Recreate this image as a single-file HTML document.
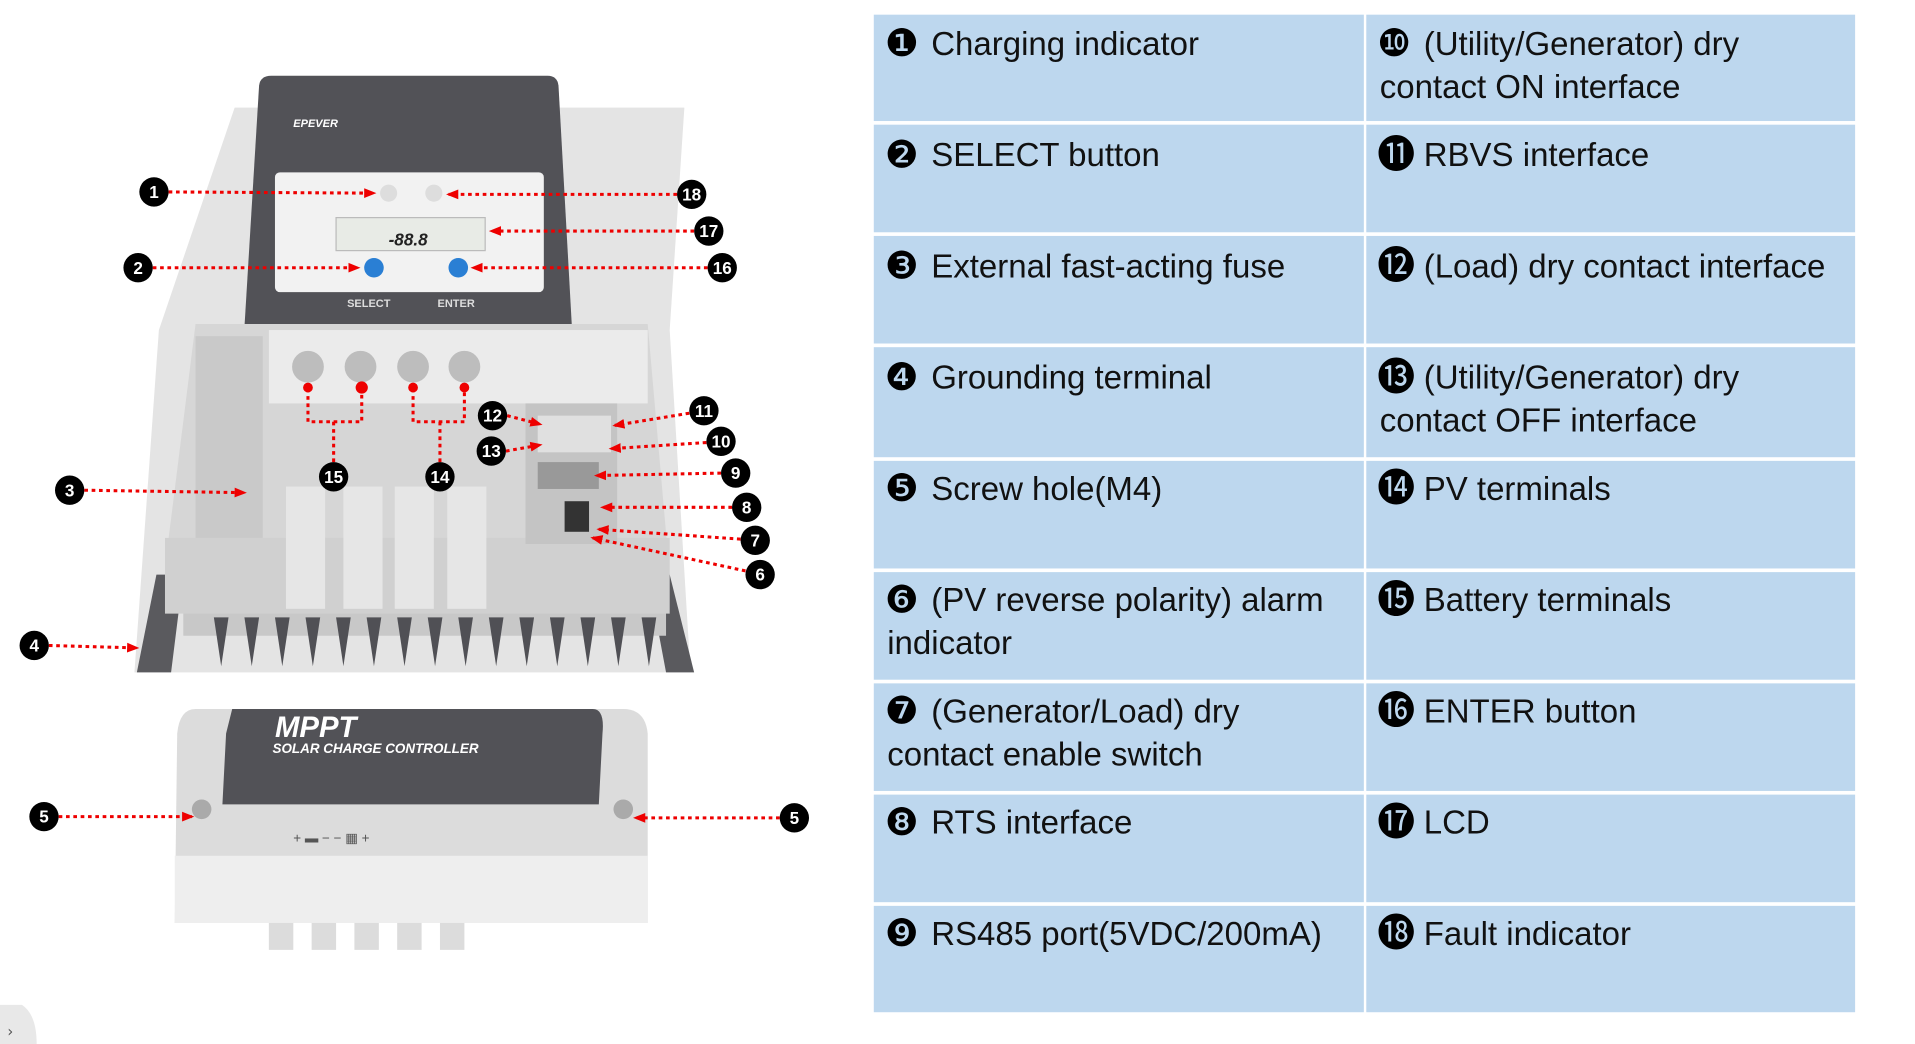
<!DOCTYPE html>
<html><head><meta charset="utf-8"><style>
html,body{margin:0;padding:0;background:#fff;width:1915px;height:1044px;overflow:hidden}
svg{display:block}
.t{font-family:"Liberation Sans Narrow","Liberation Sans",sans-serif;font-size:27px;fill:#111}
.n{font-family:"DejaVu Sans",sans-serif;font-size:31px;fill:#000}
.c{font-family:"Liberation Sans",sans-serif;font-size:14px;font-weight:bold;fill:#fff;text-anchor:middle}
</style></head><body>
<svg width="1915" height="1044" viewBox="0 0 1567 854" preserveAspectRatio="none">
<defs>
<marker id="a" markerUnits="userSpaceOnUse" markerWidth="10" markerHeight="10" refX="8" refY="5" orient="auto"><path d="M0,1 L10,5 L0,9 z" fill="#e00"/></marker>
</defs>
<g fill="#bdd7ee">
<rect x="715" y="12" width="401" height="87"/><rect x="1118" y="12" width="400" height="87"/>
<rect x="715" y="102" width="401" height="88"/><rect x="1118" y="102" width="400" height="88"/>
<rect x="715" y="193" width="401" height="88"/><rect x="1118" y="193" width="400" height="88"/>
<rect x="715" y="284" width="401" height="90"/><rect x="1118" y="284" width="400" height="90"/>
<rect x="715" y="377" width="401" height="88"/><rect x="1118" y="377" width="400" height="88"/>
<rect x="715" y="468" width="401" height="88"/><rect x="1118" y="468" width="400" height="88"/>
<rect x="715" y="559" width="401" height="88"/><rect x="1118" y="559" width="400" height="88"/>
<rect x="715" y="650" width="401" height="88"/><rect x="1118" y="650" width="400" height="88"/>
<rect x="715" y="741" width="401" height="87"/><rect x="1118" y="741" width="400" height="87"/>
</g>
<g>
<text class="n" x="724" y="46">❶</text><text class="t" x="762" y="45">Charging indicator</text>
<text class="n" x="1127" y="46">❿</text><text class="t" x="1165" y="45">(Utility/Generator) dry</text><text class="t" x="1129" y="80">contact ON interface</text>
<text class="n" x="724" y="137">❷</text><text class="t" x="762" y="136">SELECT button</text>
<text class="n" x="1127" y="137">⓫</text><text class="t" x="1165" y="136">RBVS interface</text>
<text class="n" x="724" y="228">❸</text><text class="t" x="762" y="227">External fast-acting fuse</text>
<text class="n" x="1127" y="228">⓬</text><text class="t" x="1165" y="227">(Load) dry contact interface</text>
<text class="n" x="724" y="319">❹</text><text class="t" x="762" y="318">Grounding terminal</text>
<text class="n" x="1127" y="319">⓭</text><text class="t" x="1165" y="318">(Utility/Generator) dry</text><text class="t" x="1129" y="353">contact OFF interface</text>
<text class="n" x="724" y="410">❺</text><text class="t" x="762" y="409">Screw hole(M4)</text>
<text class="n" x="1127" y="410">⓮</text><text class="t" x="1165" y="409">PV terminals</text>
<text class="n" x="724" y="501">❻</text><text class="t" x="762" y="500">(PV reverse polarity) alarm</text><text class="t" x="726" y="535">indicator</text>
<text class="n" x="1127" y="501">⓯</text><text class="t" x="1165" y="500">Battery terminals</text>
<text class="n" x="724" y="592">❼</text><text class="t" x="762" y="591">(Generator/Load) dry</text><text class="t" x="726" y="626">contact enable switch</text>
<text class="n" x="1127" y="592">⓰</text><text class="t" x="1165" y="591">ENTER button</text>
<text class="n" x="724" y="683">❽</text><text class="t" x="762" y="682">RTS interface</text>
<text class="n" x="1127" y="683">⓱</text><text class="t" x="1165" y="682">LCD</text>
<text class="n" x="724" y="774">❾</text><text class="t" x="762" y="773">RS485 port(5VDC/200mA)</text>
<text class="n" x="1127" y="774">⓲</text><text class="t" x="1165" y="773">Fault indicator</text>
</g>
<!-- device -->
<path d="M192,88 L560,88 L548,270 L565,550 L110,550 L130,270 Z" fill="#e4e4e4"/>
<path d="M128,470 L150,470 L140,550 L112,550 Z" fill="#5a5a5e"/>
<path d="M548,470 L530,470 L545,550 L568,550 Z" fill="#5a5a5e"/>
<path d="M150,500 L545,500 L545,520 L150,520 Z" fill="#c8c8c8"/>
<g fill="#505055">
<path d="M175,505 l6,40 l6,-40z"/><path d="M200,505 l6,40 l6,-40z"/><path d="M225,505 l6,40 l6,-40z"/><path d="M250,505 l6,40 l6,-40z"/><path d="M275,505 l6,40 l6,-40z"/><path d="M300,505 l6,40 l6,-40z"/><path d="M325,505 l6,40 l6,-40z"/><path d="M350,505 l6,40 l6,-40z"/><path d="M375,505 l6,40 l6,-40z"/><path d="M400,505 l6,40 l6,-40z"/><path d="M425,505 l6,40 l6,-40z"/><path d="M450,505 l6,40 l6,-40z"/><path d="M475,505 l6,40 l6,-40z"/><path d="M500,505 l6,40 l6,-40z"/><path d="M525,505 l6,40 l6,-40z"/>
</g>
<path d="M222,62 L448,62 Q456,62 457,70 L468,268 L200,268 L212,70 Q213,62 222,62Z" fill="#525257"/>
<text x="240" y="104" font-family="Liberation Sans" font-size="9" font-weight="bold" font-style="italic" fill="#fff">EPEVER</text>
<rect x="225" y="141" width="220" height="98" rx="4" fill="#f2f2f2"/>
<rect x="275" y="178" width="122" height="27" fill="#e8ebe6" stroke="#bbb"/>
<text x="318" y="201" font-family="Liberation Sans" font-size="14" font-weight="bold" font-style="italic" fill="#222">-88.8</text>
<circle cx="318" cy="158" r="7" fill="#ddd"/><circle cx="355" cy="158" r="7" fill="#ddd"/>
<circle cx="306" cy="219" r="8" fill="#2a7fd4"/><circle cx="375" cy="219" r="8" fill="#2a7fd4"/>
<text x="284" y="251" font-family="Liberation Sans" font-size="9" font-weight="bold" fill="#ddd">SELECT</text>
<text x="358" y="251" font-family="Liberation Sans" font-size="9" font-weight="bold" fill="#ddd">ENTER</text>
<path d="M160,265 L530,265 L548,470 L135,470 L138,440 Z" fill="#d6d6d6"/>
<path d="M135,440 L548,440 L548,502 L135,502 Z" fill="#d0d0d0"/>
<rect x="220" y="270" width="310" height="60" fill="#ebebeb"/>
<rect x="160" y="275" width="55" height="165" fill="#c9c9c9"/>
<g fill="#bdbdbd"><circle cx="252" cy="300" r="13"/><circle cx="295" cy="300" r="13"/><circle cx="338" cy="300" r="13"/><circle cx="380" cy="300" r="13"/></g>
<g fill="#e6e6e6"><rect x="234" y="398" width="32" height="100"/><rect x="281" y="398" width="32" height="100"/><rect x="323" y="398" width="32" height="100"/><rect x="366" y="398" width="32" height="100"/></g>
<rect x="430" y="330" width="75" height="115" fill="#c4c4c4"/>
<rect x="440" y="340" width="60" height="30" fill="#e0e0e0"/>
<rect x="440" y="378" width="50" height="22" fill="#999"/>
<rect x="462" y="410" width="20" height="25" fill="#333"/>
<!-- bottom cover -->
<path d="M160,580 L510,580 Q528,580 530,600 L530,755 L143,755 L145,600 Q147,580 160,580Z" fill="#dcdcdc"/>
<path d="M190,580 L485,580 Q495,580 493,600 L490,658 L182,658 L185,600Z" fill="#525257"/>
<text x="225" y="603" font-family="Liberation Sans" font-size="24" font-weight="bold" font-style="italic" fill="#fff">MPPT</text>
<text x="223" y="616" font-family="Liberation Sans" font-size="11" font-weight="bold" font-style="italic" fill="#fff">SOLAR CHARGE CONTROLLER</text>
<rect x="143" y="700" width="387" height="55" fill="#eee"/>
<g fill="#dcdcdc"><rect x="220" y="755" width="20" height="22"/><rect x="255" y="755" width="20" height="22"/><rect x="290" y="755" width="20" height="22"/><rect x="325" y="755" width="20" height="22"/><rect x="360" y="755" width="20" height="22"/></g>
<text x="240" y="689" font-family="Liberation Sans" font-size="11" fill="#555">+ ▬ −      − ▦ +</text>
<circle cx="165" cy="662" r="8" fill="#aaa"/><circle cx="510" cy="662" r="8" fill="#aaa"/>
<g stroke="#e00" stroke-width="2.5" stroke-dasharray="3,3" fill="none" marker-end="url(#a)">
<line x1="138" y1="157" x2="306" y2="158"/>
<line x1="554" y1="159" x2="367" y2="159"/>
<line x1="568" y1="189" x2="402" y2="189"/>
<line x1="125" y1="219" x2="293" y2="219"/>
<line x1="579" y1="219" x2="387" y2="219"/>
<line x1="69" y1="401" x2="200" y2="403"/>
<line x1="40" y1="528" x2="112" y2="530"/>
<line x1="48" y1="668" x2="157" y2="668"/>
<line x1="638" y1="669" x2="520" y2="669"/>
<line x1="415" y1="340" x2="442" y2="347"/>
<line x1="414" y1="369" x2="442" y2="364"/>
<line x1="564" y1="338" x2="503" y2="348"/>
<line x1="578" y1="362" x2="500" y2="367"/>
<line x1="590" y1="387" x2="488" y2="389"/>
<line x1="599" y1="415" x2="493" y2="415"/>
<line x1="606" y1="441" x2="490" y2="433"/>
<line x1="610" y1="467" x2="485" y2="440"/>
</g>
<g stroke="#e00" stroke-width="2.5" stroke-dasharray="3,3" fill="none">
<path d="M252,318 V345 H296 V318 M273,345 V378"/>
<path d="M338,318 V345 H380 V318 M360,345 V378"/>
</g>
<g fill="#e00"><circle cx="252" cy="317" r="4"/><circle cx="296" cy="317" r="5"/><circle cx="338" cy="317" r="4"/><circle cx="380" cy="317" r="4"/></g>
<g fill="#000">
<circle cx="126" cy="157" r="12"/><circle cx="566" cy="159" r="12"/><circle cx="580" cy="189" r="12"/><circle cx="113" cy="219" r="12"/><circle cx="591" cy="219" r="12"/><circle cx="57" cy="401" r="12"/><circle cx="28" cy="528" r="12"/><circle cx="36" cy="668" r="12"/><circle cx="650" cy="669" r="12"/><circle cx="273" cy="390" r="12"/><circle cx="360" cy="390" r="12"/><circle cx="403" cy="340" r="12"/><circle cx="402" cy="369" r="12"/><circle cx="576" cy="336" r="12"/><circle cx="590" cy="361" r="12"/><circle cx="602" cy="387" r="12"/><circle cx="611" cy="415" r="12"/><circle cx="618" cy="442" r="12"/><circle cx="622" cy="470" r="12"/>
</g>
<g>
<text x="126" y="162" class="c">1</text><text x="566" y="164" class="c">18</text><text x="580" y="194" class="c">17</text><text x="113" y="224" class="c">2</text><text x="591" y="224" class="c">16</text><text x="57" y="406" class="c">3</text><text x="28" y="533" class="c">4</text><text x="36" y="673" class="c">5</text><text x="650" y="674" class="c">5</text><text x="273" y="395" class="c">15</text><text x="360" y="395" class="c">14</text><text x="403" y="345" class="c">12</text><text x="402" y="374" class="c">13</text><text x="576" y="341" class="c">11</text><text x="590" y="366" class="c">10</text><text x="602" y="392" class="c">9</text><text x="611" y="420" class="c">8</text><text x="618" y="447" class="c">7</text><text x="622" y="475" class="c">6</text>
</g>
<path d="M0,822 L18,822 Q30,830 30,854 L0,854Z" fill="#e8e8e8"/>
<text x="6" y="848" font-family="DejaVu Sans" font-size="12" fill="#555">›</text>
</svg>
</body></html>
